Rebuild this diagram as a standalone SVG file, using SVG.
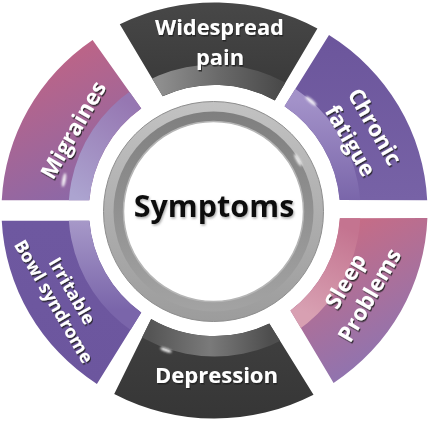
<svg xmlns="http://www.w3.org/2000/svg" width="430" height="422" viewBox="0 0 430 422">
<defs>
<style>
.lbl{font-family:"Open Sans","Noto Sans","Liberation Sans",sans-serif;font-weight:700;fill:#fff;text-anchor:middle}
.big{font-size:22px}
.sm{font-size:18px}
.title{font-family:"Open Sans","Noto Sans","Liberation Sans",sans-serif;font-weight:700;font-size:30.5px;fill:#111;text-anchor:middle}
.glint{fill:#fff;filter:url(#blur)}
</style>
<filter id="ts" x="-15%" y="-15%" width="130%" height="140%"><feDropShadow dx="1" dy="1.5" stdDeviation="0.6" flood-color="#1a1a1a" flood-opacity="0.85"/></filter>
<filter id="ts2" x="-10%" y="-20%" width="120%" height="150%"><feDropShadow dx="1" dy="1.5" stdDeviation="0.8" flood-color="#777" flood-opacity="0.6"/></filter>
<filter id="blur" x="-100%" y="-100%" width="300%" height="300%"><feGaussianBlur stdDeviation="1.2"/></filter>
<path id="band" fill-rule="evenodd" d="M68.5,210.5 A146,146 0 1 1 360.5,210.5 A146,146 0 1 1 68.5,210.5 Z M89,210.5 A125.5,125.5 0 1 0 340,210.5 A125.5,125.5 0 1 0 89,210.5 Z"/>
<clipPath id="cWide"><path d="M119.8,24.2 A213,208 0 0 1 317.4,28.4 L274.8,100.4 A125.5,125.5 0 0 0 162.7,96.2 Z"/></clipPath>
<clipPath id="cChr"><path d="M329,35.1 A213,208 0 0 1 427.2,200.3 L339.6,200 A125.5,125.5 0 0 0 284.5,106.3 Z"/></clipPath>
<clipPath id="cSleep"><path d="M427.4,218.1 A213,208 0 0 1 333.6,382.9 L290.4,310.4 A125.5,125.5 0 0 0 339.8,218.2 Z"/></clipPath>
<clipPath id="cDep"><path d="M313.5,394.7 A213,208 0 0 1 114.2,394 L151.2,318.9 A125.5,125.5 0 0 0 269.3,323.4 Z"/></clipPath>
<clipPath id="cIrr"><path d="M96.9,384 A213,208 0 0 1 1.75,220.7 L89.4,220.8 A125.5,125.5 0 0 0 141.3,312.4 Z"/></clipPath>
<clipPath id="cMig"><path d="M1.75,200.3 A213,208 0 0 1 92.6,39.9 L141.3,108.6 A125.5,125.5 0 0 0 89.4,200.2 Z"/></clipPath>
<linearGradient id="gWide" gradientUnits="userSpaceOnUse" x1="0" y1="5" x2="0" y2="100"><stop offset="0" stop-color="#474747"/><stop offset="1" stop-color="#383838"/></linearGradient>
<linearGradient id="gWideBand" gradientUnits="userSpaceOnUse" x1="160" y1="0" x2="280" y2="0"><stop offset="0" stop-color="#8e8e8e"/><stop offset="0.5" stop-color="#696969"/><stop offset="1" stop-color="#4a4a4a"/></linearGradient>
<linearGradient id="gDep" gradientUnits="userSpaceOnUse" x1="0" y1="320" x2="0" y2="418"><stop offset="0" stop-color="#404040"/><stop offset="1" stop-color="#363636"/></linearGradient>
<linearGradient id="gDepBand" gradientUnits="userSpaceOnUse" x1="150" y1="0" x2="270" y2="0"><stop offset="0" stop-color="#555"/><stop offset="0.5" stop-color="#7a7a7a"/><stop offset="1" stop-color="#4e4e4e"/></linearGradient>
<linearGradient id="gMig" gradientUnits="userSpaceOnUse" x1="50" y1="60" x2="110" y2="190"><stop offset="0" stop-color="#bc6487"/><stop offset="1" stop-color="#8a68a8"/></linearGradient>
<linearGradient id="gMigBand" gradientUnits="userSpaceOnUse" x1="80" y1="200" x2="140" y2="110"><stop offset="0" stop-color="#aca4d0"/><stop offset="1" stop-color="#9677b2"/></linearGradient>
<linearGradient id="gChr" gradientUnits="userSpaceOnUse" x1="0" y1="40" x2="0" y2="200"><stop offset="0" stop-color="#6c569c"/><stop offset="1" stop-color="#7762a6"/></linearGradient>
<linearGradient id="gChrBand" gradientUnits="userSpaceOnUse" x1="0" y1="100" x2="0" y2="200"><stop offset="0" stop-color="#a392c9"/><stop offset="1" stop-color="#7a66aa"/></linearGradient>
<linearGradient id="gSleep" gradientUnits="userSpaceOnUse" x1="330" y1="230" x2="400" y2="360"><stop offset="0" stop-color="#c76c85"/><stop offset="1" stop-color="#8c74b2"/></linearGradient>
<linearGradient id="gSleepBand" gradientUnits="userSpaceOnUse" x1="300" y1="310" x2="340" y2="225"><stop offset="0" stop-color="#d8a0b2"/><stop offset="1" stop-color="#c47490"/></linearGradient>
<linearGradient id="gIrr" gradientUnits="userSpaceOnUse" x1="0" y1="221" x2="0" y2="385"><stop offset="0" stop-color="#6e58a0"/><stop offset="1" stop-color="#6c569e"/></linearGradient>
<linearGradient id="gIrrBand" gradientUnits="userSpaceOnUse" x1="0" y1="221" x2="0" y2="310"><stop offset="0" stop-color="#a698c8"/><stop offset="1" stop-color="#7a65aa"/></linearGradient>
<linearGradient id="gRingO" x1="0" y1="0" x2="0" y2="1"><stop offset="0" stop-color="#c2c2c2"/><stop offset="1" stop-color="#9c9c9c"/></linearGradient>
<linearGradient id="gRingI" x1="0" y1="0" x2="0" y2="1"><stop offset="0" stop-color="#7f7f7f"/><stop offset="1" stop-color="#a3a3a3"/></linearGradient>
</defs>
<rect width="430" height="422" fill="#fff"/>

<g id="widespread-pain">
<path fill="url(#gWide)" d="M119.8,24.2 A213,208 0 0 1 317.4,28.4 L274.8,100.4 A125.5,125.5 0 0 0 162.7,96.2 Z"/>
<use href="#band" fill="url(#gWideBand)" clip-path="url(#cWide)"/>
<g filter="url(#ts)"><text class="lbl" style="font-size:21.8px" x="219.5" y="35">Widespread<tspan x="220" dy="30.4">pain</tspan></text></g>
</g>

<g id="chronic-fatigue">
<path fill="url(#gChr)" d="M329,35.1 A213,208 0 0 1 427.2,200.3 L339.6,200 A125.5,125.5 0 0 0 284.5,106.3 Z"/>
<use href="#band" fill="url(#gChrBand)" clip-path="url(#cChr)"/>
<ellipse class="glint" cx="311" cy="101" rx="1.6" ry="7" transform="rotate(-50 311 101)"/>
<g filter="url(#ts)"><text class="lbl big" transform="translate(362,134) rotate(60)" x="0" y="-7">Chronic<tspan x="0" dy="28">fatigue</tspan></text></g>
</g>

<g id="sleep-problems">
<path fill="url(#gSleep)" d="M427.4,218.1 A213,208 0 0 1 333.6,382.9 L290.4,310.4 A125.5,125.5 0 0 0 339.8,218.2 Z"/>
<use href="#band" fill="url(#gSleepBand)" clip-path="url(#cSleep)"/>
<g filter="url(#ts)"><text class="lbl big" transform="translate(358,288.5) rotate(-60)" x="0" y="-7">Sleep<tspan x="0" dy="28">Problems</tspan></text></g>
</g>

<g id="depression">
<path fill="url(#gDep)" d="M313.5,394.7 A213,208 0 0 1 114.2,394 L151.2,318.9 A125.5,125.5 0 0 0 269.3,323.4 Z"/>
<use href="#band" fill="url(#gDepBand)" clip-path="url(#cDep)"/>
<ellipse class="glint" cx="166" cy="350" rx="6" ry="1.6" transform="rotate(20 166 350)"/>
<g filter="url(#ts)"><text class="lbl big" x="216.5" y="382.5">Depression</text></g>
</g>

<g id="irritable-bowl-syndrome">
<path fill="url(#gIrr)" d="M96.9,384 A213,208 0 0 1 1.75,220.7 L89.4,220.8 A125.5,125.5 0 0 0 141.3,312.4 Z"/>
<use href="#band" fill="url(#gIrrBand)" clip-path="url(#cIrr)"/>
<g filter="url(#ts)"><text class="lbl sm" transform="translate(63,296) rotate(60)" x="0" y="-4">Irritable<tspan x="0" dy="21">Bowl syndrome</tspan></text></g>
</g>

<g id="migraines">
<path fill="url(#gMig)" d="M1.75,200.3 A213,208 0 0 1 92.6,39.9 L141.3,108.6 A125.5,125.5 0 0 0 89.4,200.2 Z"/>
<use href="#band" fill="url(#gMigBand)" clip-path="url(#cMig)"/>
<ellipse class="glint" cx="64" cy="180" rx="1.6" ry="7" transform="rotate(10 64 180)"/>
<g filter="url(#ts)"><text class="lbl big" transform="translate(73.5,130) rotate(-60)" x="0" y="7.5">Migraines</text></g>
</g>

<g id="symptoms">
<circle cx="213.5" cy="211.5" r="110" fill="url(#gRingO)" stroke="#8e8e8e" stroke-width="1"/>
<circle cx="213.5" cy="211.5" r="100" fill="url(#gRingI)"/>
<circle cx="213.5" cy="211.5" r="90" fill="#fff" stroke="#b5b5b5" stroke-width="1.5"/>
<ellipse class="glint" cx="298" cy="160" rx="1.5" ry="7" transform="rotate(-30 298 160)"/>
<g filter="url(#ts2)"><text class="title" x="214" y="217">Symptoms</text></g>
</g>
</svg>
